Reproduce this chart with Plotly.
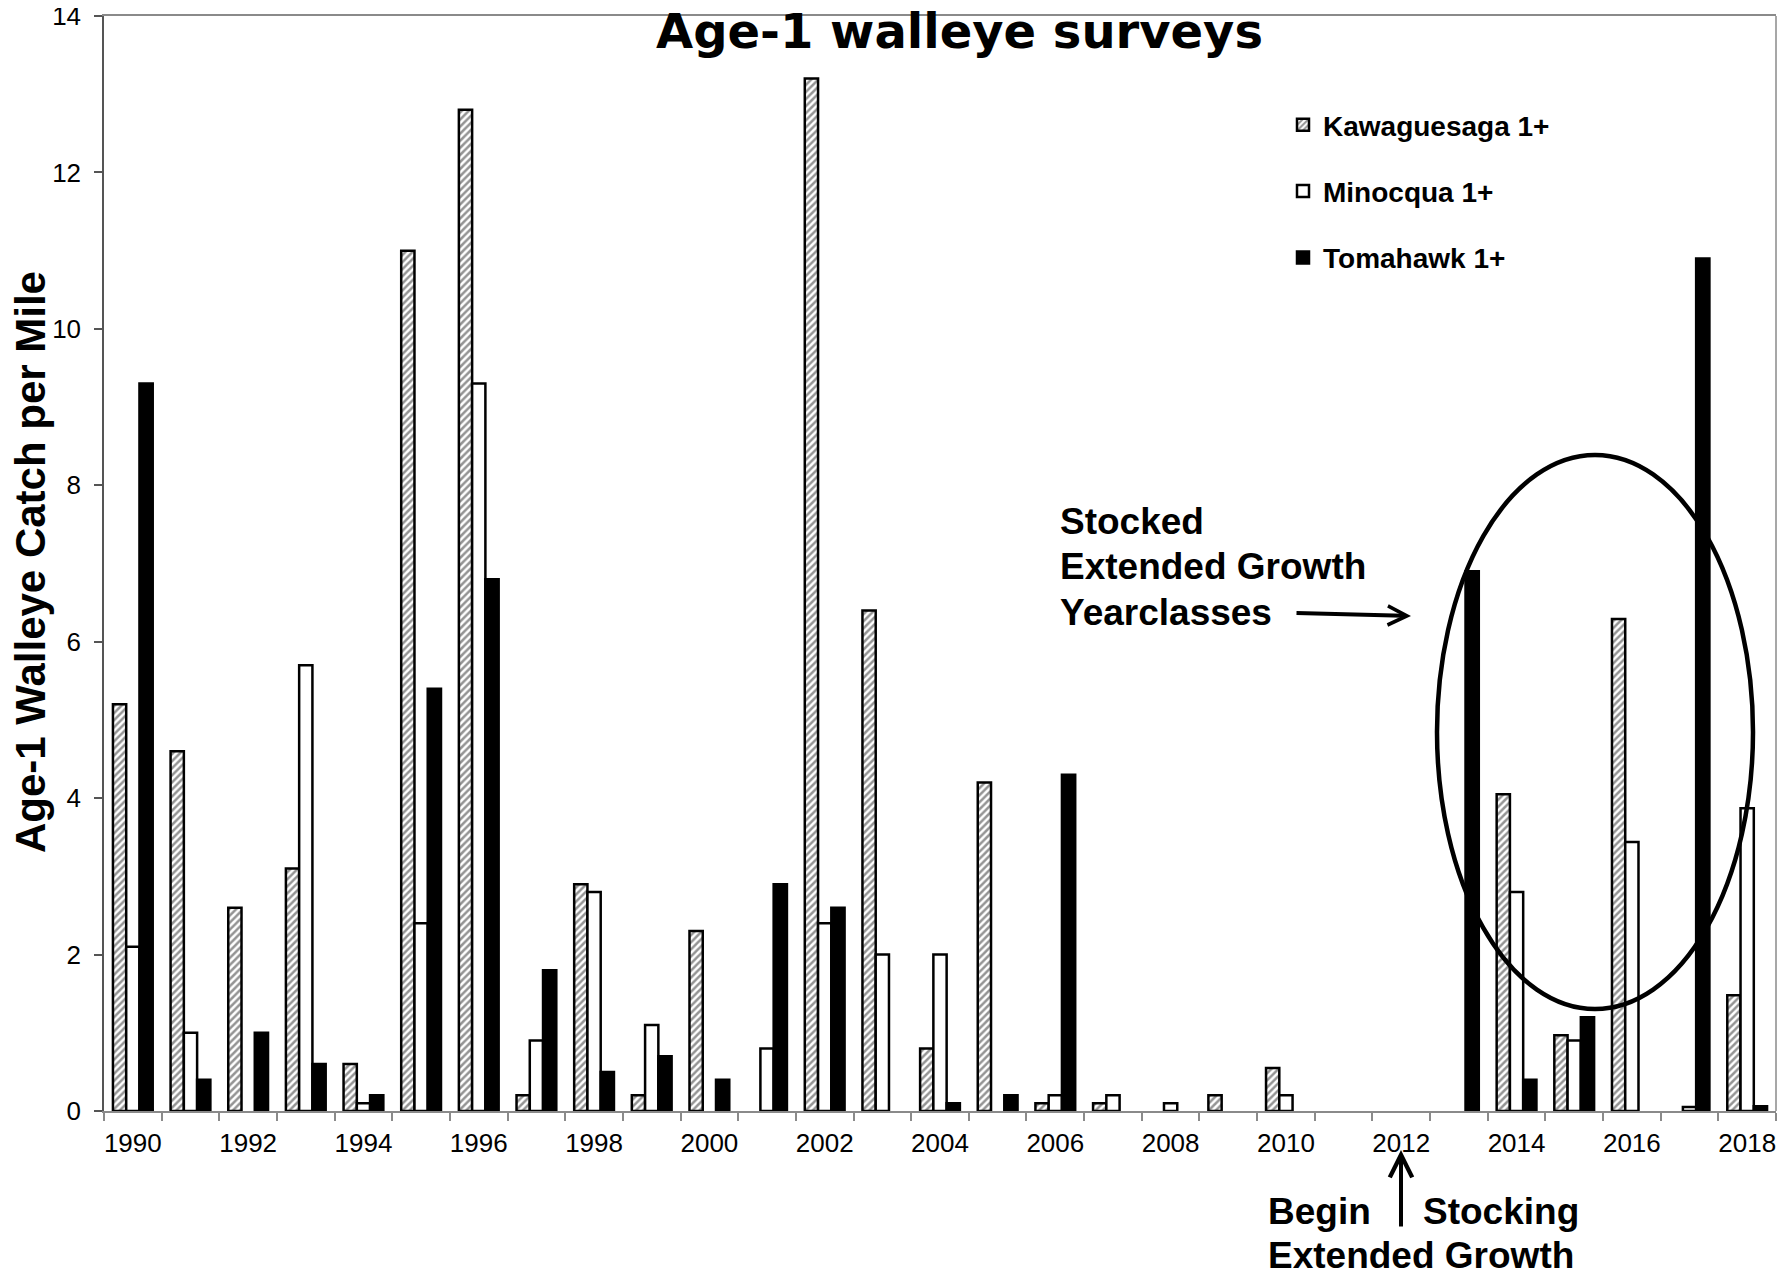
import plotly.graph_objects as go

# ---------------- data ----------------
years = list(range(1990, 2019))
kawaguesaga = [5.2, 4.6, 2.6, 3.1, 0.6, 11.0, 12.8, 0.2, 2.9, 0.2, 2.3, None, 13.2, 6.4,
               0.8, 4.2, 0.1, 0.1, None, 0.2, 0.55, None, None, None, 4.05, 0.97, 6.29,
               None, 1.48]
minocqua = [2.1, 1.0, None, 5.7, 0.1, 2.4, 9.3, 0.9, 2.8, 1.1, None, 0.8, 2.4, 2.0,
            2.0, None, 0.2, 0.2, 0.1, None, 0.2, None, None, None, 2.8, 0.9, 3.44,
            0.05, 3.87]
tomahawk = [9.3, 0.4, 1.0, 0.6, 0.2, 5.4, 6.8, 1.8, 0.5, 0.7, 0.4, 2.9, 2.6, None,
            0.1, 0.2, 4.3, None, None, None, None, None, None, 6.9, 0.4, 1.2, None,
            10.9, 0.06]
series_names = ["Kawaguesaga 1+", "Minocqua 1+", "Tomahawk 1+"]
tick_years = list(range(1990, 2019, 2))
tick_labels = [str(y) for y in tick_years]
y_ticks = list(range(0, 15, 2))

# ---------------- layout helpers ----------------
# The page body has an 8px default margin, so the figure is drawn 8px smaller
# and every reference pixel position is shifted by that offset.
OFF = 8
FW, FH = 1787 - OFF, 1275 - OFF
L, R, T, B = 104, 1776, 16, 1111      # plot area in reference pixels


def px(x):
    return (x - L) / (R - L)


def py(y):
    return (B - y) / (B - T)


ARIAL = "Liberation Sans, Arial, sans-serif"

fig = go.Figure()
fig.add_bar(
    name=series_names[0], x=years, y=kawaguesaga, legendgroup="k",
    marker=dict(color="white",
                pattern=dict(shape="/", size=5, solidity=0.5,
                             fgcolor="#2a2a2a", bgcolor="white"),
                line=dict(color="black", width=2.5)),
)
fig.add_bar(
    name=series_names[1], x=years, y=minocqua, legendgroup="m",
    marker=dict(color="white", line=dict(color="black", width=2.5)),
)
fig.add_bar(
    name=series_names[2], x=years, y=tomahawk, legendgroup="t",
    marker=dict(color="black", line=dict(color="black", width=2.5)),
)

fig.update_layout(
    width=FW, height=FH,
    margin=dict(l=L - OFF, r=1787 - R, t=T - OFF, b=1275 - B, pad=0, autoexpand=False),
    paper_bgcolor="white", plot_bgcolor="white",
    barmode="group", bargap=0.31, bargroupgap=0,
    showlegend=True,
    legend=dict(
        x=px(1283), y=py(100), xanchor="left", yanchor="top",
        bgcolor="rgba(0,0,0,0)", borderwidth=0,
        font=dict(family=ARIAL, size=28, color="black", weight="bold"),
        tracegroupgap=27, itemwidth=30, traceorder="grouped",
    ),
    xaxis=dict(
        type="linear", range=[years[0] - 0.5, years[-1] + 0.5], automargin=False,
        tickmode="array", tickvals=tick_years, ticktext=tick_labels,
        ticks="", showgrid=False, zeroline=False,
        showline=True, linecolor="#8a8a8a", linewidth=1.5, mirror=True,
        tickfont=dict(family=ARIAL, size=26, color="black"),
        ticklabelstandoff=8, ticklabeloverflow="allow",
        minor=dict(ticks="outside", ticklen=8, tickwidth=1.5, tickcolor="#8a8a8a",
                   tick0=years[0] - 0.5, dtick=1, showgrid=False),
    ),
    yaxis=dict(
        range=[0, 14], tickmode="array", tickvals=y_ticks, automargin=False,
        ticks="outside", ticklen=8, tickwidth=1.5, tickcolor="#555555",
        showgrid=False, zeroline=False,
        showline=True, linecolor="#555555", linewidth=1.5,
        tickfont=dict(family=ARIAL, size=26, color="black"),
        ticklabelstandoff=8, ticklabeloverflow="allow",
    ),
)

# right border of the plot frame
fig.add_shape(type="line", xref="paper", yref="paper", x0=1, x1=1, y0=0, y1=1,
              line=dict(color="#8a8a8a", width=1.5))

# ellipse around stocked year classes
fig.add_shape(type="circle", xref="paper", yref="paper",
              x0=px(1437), x1=px(1753), y0=py(1009), y1=py(455),
              line=dict(color="black", width=4.5))

# title
fig.add_annotation(text="<b>Age-1 walleye surveys</b>", x=px(959), y=py(31),
                   xref="paper", yref="paper", showarrow=False,
                   xanchor="center", yanchor="middle",
                   font=dict(family="DejaVu Sans, Verdana, sans-serif", size=48, color="black"))

# y axis title
fig.add_annotation(text="<b>Age-1 Walleye Catch per Mile</b>", x=px(30), y=py(562),
                   xref="paper", yref="paper", showarrow=False, textangle=-90,
                   xanchor="center", yanchor="middle",
                   font=dict(family=ARIAL, size=42, color="black"))

# text annotations
ann_font = dict(family=ARIAL, size=37, color="black")
for txt, xx, yy in [("Stocked", 1058, 521), ("Extended Growth", 1058, 566),
                    ("Yearclasses", 1058, 612), ("Begin", 1266, 1211),
                    ("Stocking", 1421, 1211), ("Extended Growth", 1266, 1255)]:
    fig.add_annotation(text="<b>%s</b>" % txt, x=px(xx), y=py(yy),
                       xref="paper", yref="paper", showarrow=False,
                       xanchor="left", yanchor="middle", font=ann_font)

# arrows
fig.add_annotation(text="", x=px(1411), y=py(616), xref="paper", yref="paper",
                   ax=-116, ay=-3, showarrow=True, arrowhead=5, arrowsize=0.94,
                   arrowwidth=4, arrowcolor="black", standoff=0)
fig.add_annotation(text="", x=px(1401), y=py(1150), xref="paper", yref="paper",
                   ax=0, ay=78, showarrow=True, arrowhead=5, arrowsize=1.1,
                   arrowwidth=4, arrowcolor="black", standoff=0)

fig.write_html("out.html")
